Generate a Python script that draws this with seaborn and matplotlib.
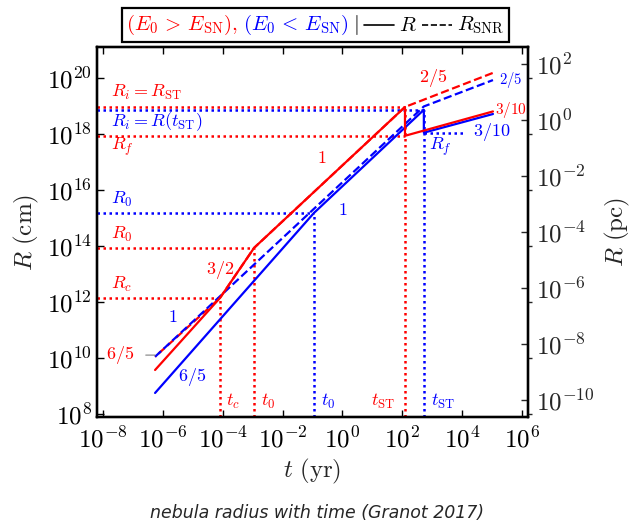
import numpy as np
import matplotlib
matplotlib.use("Agg")
import matplotlib.pyplot as plt
import seaborn as sns
from matplotlib.offsetbox import TextArea, DrawingArea, HPacker, AnchoredOffsetbox
from matplotlib.lines import Line2D
from matplotlib.ticker import FixedLocator, FuncFormatter, NullLocator

# ---------------- data ----------------
# red case (E0 > E_SN): nebula radius R
t_red_R = [5.5e-7, 8.1e-5, 1.12e-3, 123.0, 123.0, 1.07e5]
R_red_R = [3.7e9, 1.38e12, 8.5e13, 9.1e18, 8.5e17, 6.3e18]
# red case: SNR radius
t_red_SNR = [5.5e-7, 8.1e-5, 1.12e-3, 123.0, 1.07e5]
R_red_SNR = [1.1e10, 1.38e12, 8.5e13, 9.1e18, 1.5e20]
# blue case (E0 < E_SN): nebula radius R
t_blue_R = [5.5e-7, 0.112, 525.0, 525.0, 1.07e5]
R_blue_R = [5.6e8, 1.5e15, 7.2e18, 1.1e18, 5.1e18]
# blue case: SNR radius
t_blue_SNR = [5.5e-7, 525.0, 1.07e5]
R_blue_SNR = [1.1e10, 9.5e18, 8.3e19]

# characteristic times / radii
t_c, R_c = 8.1e-5, 1.38e12
t0_red, R0_red = 1.12e-3, 8.5e13
tST_red, RST_red, Rf_red = 123.0, 9.1e18, 8.5e17
t0_blue, R0_blue = 0.112, 1.5e15
tST_blue, Ri_blue, Rf_blue = 525.0, 7.2e18, 1.1e18
Rf_blue_end = 1.07e4

x_tick_exp = [-8, -6, -4, -2, 0, 2, 4, 6]
y_tick_exp = [8, 10, 12, 14, 16, 18, 20]
pc_tick_exp = [-10, -8, -6, -4, -2, 0, 2]
PC_CM = 3.086e18

# ---------------- style ----------------
sns.set_style("ticks")
plt.rcParams["mathtext.fontset"] = "cm"
plt.rcParams["font.family"] = ["DejaVu Sans"]
RED, BLUE = "#ff0000", "#0000ff"

fig = plt.figure(figsize=(6.33, 5.26), dpi=100)
ax = fig.add_axes([97 / 633, 1 - 417 / 526, (528 - 97) / 633, (417 - 47) / 526])
ax.set_xscale("log")
ax.set_yscale("log")
xlim = (10 ** -8.2, 10 ** 6.2)
ylim = (10 ** 7.89, 10 ** 21.1)
ax.set_xlim(*xlim)
ax.set_ylim(*ylim)

lw = 1.6
# guides (dotted)
dot = dict(linestyles=(0, (1.0, 1.4)), linewidth=1.8)
ax.hlines([RST_red, Rf_red, R0_red, R_c], xlim[0], [tST_red, tST_red, t0_red, t_c], colors=RED, **dot)
ax.vlines([t_c, t0_red, tST_red], ylim[0], [R_c, R0_red, RST_red], colors=RED, **dot)
ax.hlines([Ri_blue, R0_blue], xlim[0], [tST_blue, t0_blue], colors=BLUE, **dot)
ax.hlines([Rf_blue], tST_blue, Rf_blue_end, colors=BLUE, **dot)
ax.vlines([t0_blue, tST_blue], ylim[0], [R0_blue, Ri_blue], colors=BLUE, **dot)

# curves
sns.lineplot(x=t_red_SNR, y=R_red_SNR, ax=ax, color=RED, lw=lw, sort=False,
             estimator=None, linestyle=(3.2, (3.7, 1.6)))
sns.lineplot(x=t_blue_SNR, y=R_blue_SNR, ax=ax, color=BLUE, lw=lw, sort=False,
             estimator=None, linestyle="--")
sns.lineplot(x=t_blue_R, y=R_blue_R, ax=ax, color=BLUE, lw=lw, sort=False, estimator=None)
sns.lineplot(x=t_red_R, y=R_red_R, ax=ax, color=RED, lw=lw, sort=False, estimator=None)

# ticks
fmt = FuncFormatter(lambda v, p: r"$10^{%d}$" % int(round(np.log10(v))))
ax.xaxis.set_major_locator(FixedLocator([10.0 ** e for e in x_tick_exp]))
ax.yaxis.set_major_locator(FixedLocator([10.0 ** e for e in y_tick_exp]))
ax.xaxis.set_major_formatter(fmt)
ax.yaxis.set_major_formatter(fmt)
ax.xaxis.set_minor_locator(NullLocator())
ax.yaxis.set_minor_locator(NullLocator())
ax.tick_params(which="major", direction="in", top=True, right=False, length=5,
               width=1, labelsize=18, colors="black")
ax.tick_params(axis="x", pad=7)

ax2 = ax.twinx()
ax2.set_yscale("log")
ax2.set_ylim(ylim[0] / PC_CM, ylim[1] / PC_CM)
ax2.yaxis.set_major_locator(FixedLocator([10.0 ** e for e in pc_tick_exp]))
ax2.yaxis.set_major_formatter(fmt)
ax2.yaxis.set_minor_locator(NullLocator())
ax2.tick_params(which="major", direction="in", length=5, width=1, labelsize=18, pad=6)

ax3 = ax.twinx()
ax3.set_yscale("log")
ax3.set_ylim(*ylim)
ax3.yaxis.set_major_locator(FixedLocator([10.0 ** e for e in y_tick_exp]))
ax3.yaxis.set_minor_locator(NullLocator())
ax3.tick_params(which="major", direction="out", length=3, width=1, labelright=False)

for a in (ax, ax2, ax3):
    for s in a.spines.values():
        s.set_linewidth(1.6)
        s.set_color("black")

ax.set_xlabel(r"$t\ (\mathrm{yr})$", fontsize=18, labelpad=3)
ax.set_ylabel(r"$R\ (\mathrm{cm})$", fontsize=18, labelpad=4)
ax2.set_ylabel(r"$R\ (\mathrm{pc})$", fontsize=18, labelpad=6)

# annotations
def lab(x, y, s, c, size=13, ha="left"):
    ax.text(10 ** x, 10 ** y, s, color=c, fontsize=size, ha=ha, va="center")

lab(-7.72, 19.46, r"$R_i = R_{\rm ST}$", RED)
lab(-7.72, 18.43, r"$R_i = R(t_{\rm ST})$", BLUE)
lab(-7.72, 17.54, r"$R_f$", RED)
lab(-7.72, 15.64, r"$R_0$", BLUE)
lab(-7.72, 14.39, r"$R_0$", RED)
lab(-7.72, 12.61, r"$R_c$", RED)
lab(-4.09, 13.14, r"$3/2$", RED, ha="center")
lab(-0.68, 17.14, r"$1$", RED, ha="center")
lab(3.03, 20.0, r"$2/5$", RED, ha="center")
lab(5.62, 18.84, r"$3/10$", RED, size=11, ha="center")
lab(-3.66, 8.43, r"$t_c$", RED, ha="center")
lab(-2.49, 8.43, r"$t_0$", RED, ha="center")
lab(1.36, 8.43, r"$t_{\rm ST}$", RED, ha="center")
lab(-5.66, 11.46, r"$1$", BLUE, ha="center")
lab(-5.03, 9.32, r"$6/5$", BLUE, ha="center")
lab(0.02, 15.29, r"$1$", BLUE, ha="center")
lab(5.62, 19.93, r"$2/5$", BLUE, size=10.5, ha="center")
lab(5.0, 18.07, r"$3/10$", BLUE, ha="center")
lab(3.26, 17.54, r"$R_f$", BLUE, ha="center")
lab(-0.48, 8.43, r"$t_0$", BLUE, ha="center")
lab(3.36, 8.43, r"$t_{\rm ST}$", BLUE, ha="center")
ax.annotate(r"$6/5$", xy=(10 ** -6.26, 10 ** 10.1), xytext=(10 ** -7.43, 10 ** 10.1),
            color=RED, fontsize=13, ha="center", va="center",
            arrowprops=dict(arrowstyle="-", color="gray", lw=0.8, shrinkA=6, shrinkB=0))

# legend-like header
fsl = 15
parts = [
    TextArea(r"$(E_0\,>\,E_{\rm SN}),$", textprops=dict(color=RED, size=fsl)),
    TextArea(r"$(E_0\,<\,E_{\rm SN})$", textprops=dict(color=BLUE, size=fsl)),
    TextArea(r"$|$", textprops=dict(color="black", size=fsl)),
]
da1 = DrawingArea(22, 10)
da1.add_artist(Line2D([0, 22], [5, 5], color="black", lw=1.2))
da2 = DrawingArea(22, 10)
da2.add_artist(Line2D([0, 22], [5, 5], color="black", lw=1.2, linestyle="--"))
parts += [da1, TextArea(r"$R$", textprops=dict(color="black", size=fsl)), da2,
          TextArea(r"$R_{\rm SNR}$", textprops=dict(color="black", size=fsl))]
hp = HPacker(children=parts, sep=3.5, pad=0, align="center")
box = AnchoredOffsetbox(loc="upper center", child=hp, pad=0.35, borderpad=0, frameon=True,
                        bbox_to_anchor=(315.5 / 633, 1 - 8 / 526),
                        bbox_transform=fig.transFigure)
box.patch.set_boxstyle("square", pad=0)
box.patch.set_edgecolor("black")
box.patch.set_linewidth(1.6)
fig.add_artist(box)

fig.text(0.5, 1 - 513 / 526, "nebula radius with time (Granot 2017)", ha="center",
         va="center", style="italic", fontsize=12.5, family="DejaVu Sans")

fig.savefig("out.png", dpi=100)
